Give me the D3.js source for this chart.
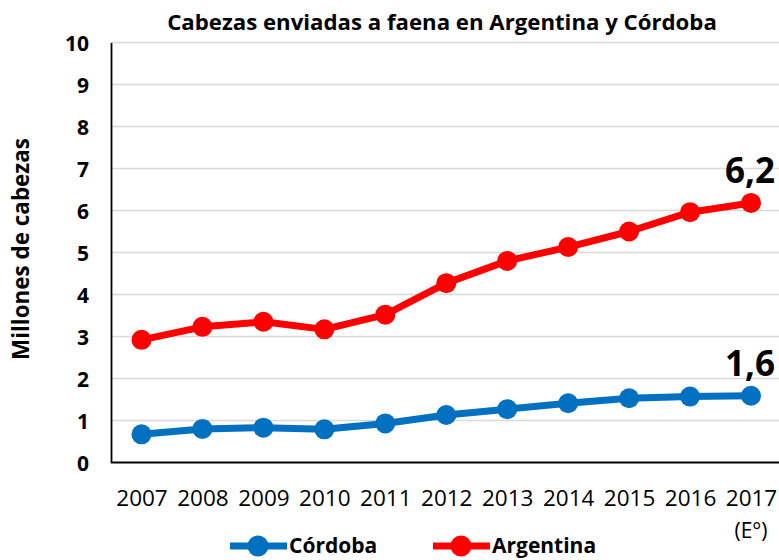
<!DOCTYPE html>
<html><head><meta charset="utf-8">
<script src="https://cdn.jsdelivr.net/npm/d3@7"></script>
<style>body{margin:0;background:#fff}svg{display:block}</style>
</head><body>
<svg id="c" width="779" height="560"></svg>
<script>
const years = ["2007","2008","2009","2010","2011","2012","2013","2014","2015","2016","2017"];
const cordoba = [0.67,0.80,0.83,0.79,0.93,1.13,1.27,1.41,1.53,1.57,1.59];
const argentina = [2.92,3.23,3.35,3.17,3.52,4.27,4.80,5.13,5.50,5.96,6.18];
const yTicks = [0,1,2,3,4,5,6,7,8,9,10];
const endLabels = ["1,6","6,2"];
const title = "Cabezas enviadas a faena en Argentina y Córdoba";
const yTitle = "Millones de cabezas";
const lastNote = "(E°)";
const seriesNames = ["Córdoba","Argentina"];
const colors = ["#0070C0","#FF0000"];

const font = "'Open Sans', sans-serif";
const svg = d3.select("#c");
const x = d3.scalePoint().domain(years).range([141.5, 751]);
const y = d3.scaleLinear().domain([0,10]).range([462.5, 42.5]);

function fit(sel, w){
  const n = sel.node(); let fs = parseFloat(sel.attr("font-size"));
  const l = n.getComputedTextLength(); sel.attr("font-size", fs*w/l);
}

// gridlines
svg.append("g").selectAll("line").data(yTicks.slice(1)).join("line")
  .attr("x1",111).attr("x2",779).attr("y1",d=>y(d)).attr("y2",d=>y(d))
  .attr("stroke","#d9d9d9").attr("stroke-width",1.5);

// y axis
const ya = svg.append("g").attr("transform","translate(111,0)")
  .call(d3.axisLeft(y).tickValues(yTicks).tickSize(0).tickPadding(22));
ya.select(".domain").attr("stroke","#000").attr("stroke-width",1.8);
ya.selectAll("text").attr("font-family",font).attr("font-weight","bold")
  .attr("font-size",21).attr("fill","#000").attr("dy","0.36em");

// x axis
svg.append("line").attr("x1",111).attr("x2",779).attr("y1",y(0)).attr("y2",y(0))
  .attr("stroke","#000").attr("stroke-width",1.8);
const xa = svg.append("g").attr("transform",`translate(0,${y(0)})`)
  .call(d3.axisBottom(x).tickSize(0).tickPadding(0));
xa.select(".domain").remove();
xa.selectAll("text").attr("font-family",font).attr("font-size",22.5).attr("fill","#000")
  .attr("dy",null).attr("y",43.5);
svg.append("text").attr("x",x("2017")).attr("y",538).attr("text-anchor","middle")
  .attr("font-family",font).attr("font-size",21).attr("fill","#000").text(lastNote);

// series
const line = d3.line().x((d,i)=>x(years[i])).y(d=>y(d));
[cordoba, argentina].forEach((s,k)=>{
  const g = svg.append("g");
  g.append("path").attr("d",line(s)).attr("fill","none").attr("stroke",colors[k])
    .attr("stroke-width",7).attr("stroke-linejoin","round");
  g.selectAll("circle").data(s).join("circle")
    .attr("cx",(d,i)=>x(years[i])).attr("cy",d=>y(d)).attr("r",10).attr("fill",colors[k]);
  g.append("text").attr("x",x(years[years.length-1])+24).attr("y",y(s[s.length-1])-20)
    .attr("text-anchor","end").attr("font-family",font).attr("font-weight","bold")
    .attr("font-size",35).attr("fill","#000").text(endLabels[k]);
});

// title
const t = svg.append("text").attr("x",442).attr("y",30).attr("text-anchor","middle")
  .attr("font-family",font).attr("font-weight","bold").attr("font-size",20).attr("fill","#000").text(title);
fit(t,550);
const yt = svg.append("text").attr("transform","translate(29,249) rotate(-90)").attr("text-anchor","middle")
  .attr("font-family",font).attr("font-weight","bold").attr("font-size",20).attr("fill","#000").text(yTitle);
fit(yt,222);

// legend
const legX = [230, 433];
seriesNames.forEach((n,k)=>{
  const g = svg.append("g").attr("transform",`translate(${legX[k]},546)`);
  g.append("line").attr("x1",0).attr("x2",57).attr("stroke",colors[k]).attr("stroke-width",7);
  g.append("circle").attr("cx",28).attr("r",10.5).attr("fill",colors[k]);
  g.append("text").attr("x",59).attr("y",7).attr("font-family",font).attr("font-weight","bold")
    .attr("font-size",21).attr("fill","#000").text(n);
});
</script>
</body></html>
